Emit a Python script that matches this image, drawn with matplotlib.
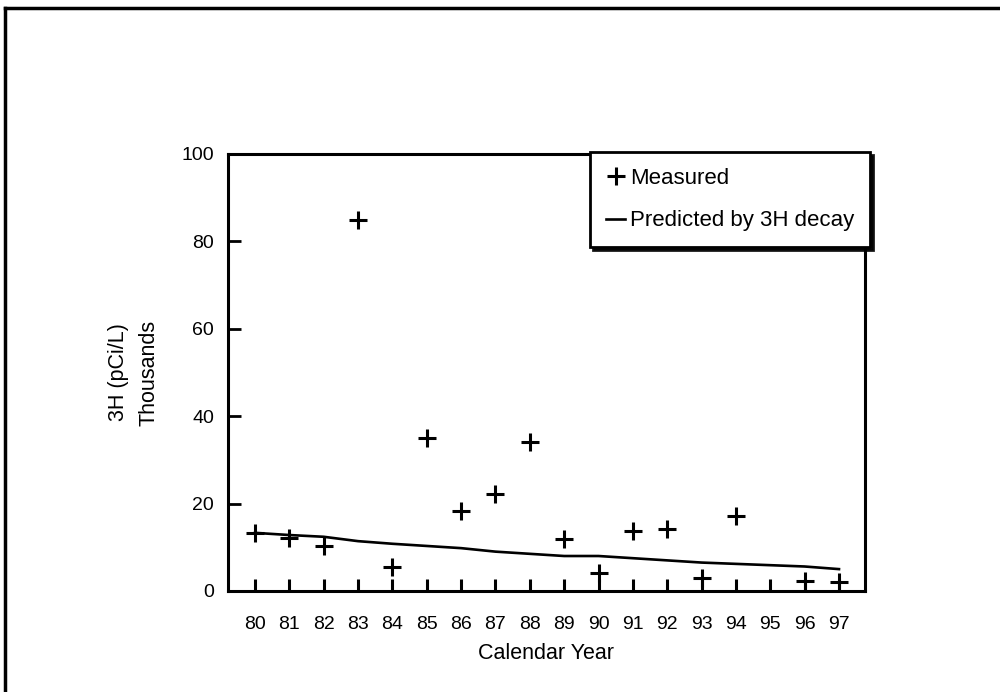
import matplotlib.pyplot as plt
from matplotlib.lines import Line2D

plt.rcParams['font.family'] = ['Liberation Sans', 'DejaVu Sans']

# measured tritium, thousands of pCi/L (no sample in 95)
years_meas = [80, 81, 82, 83, 84, 85, 86, 87, 88, 89, 90, 91, 92, 93, 94, 96, 97]
measured = [13.3, 12.2, 10.4, 84.9, 5.5, 35.0, 18.4, 22.2, 34.2, 11.8, 4.0, 13.7, 14.1, 3.0, 17.1, 2.2, 2.1]

# predicted by 3H decay
years_pred = [80, 81, 82, 83, 84, 85, 86, 87, 88, 89, 90, 91, 92, 93, 94, 95, 96, 97]
predicted = [13.3, 12.8, 12.4, 11.4, 10.8, 10.3, 9.8, 9.0, 8.5, 8.0, 8.0, 7.5, 7.0, 6.5, 6.2, 5.9, 5.6, 5.0]

year_ticks = list(range(80, 98))
y_ticks = [0, 20, 40, 60, 80, 100]

fig = plt.figure(figsize=(10, 6.92), dpi=100)
ax = fig.add_axes([0.228, 0.146, 0.637, 0.6315])

ax.plot(years_meas, measured, linestyle='none', marker='+', color='black',
        markersize=13, markeredgewidth=2.2, label='Measured')
ax.plot(years_pred, predicted, color='black', linewidth=1.9,
        label='Predicted by 3H decay')

ax.set_xlim(79.214, 97.757)
ax.set_ylim(0, 100)
ax.set_xticks(year_ticks)
ax.set_xticklabels([str(y) for y in year_ticks])
ax.set_yticks(y_ticks)

for s in ax.spines.values():
    s.set_linewidth(2.2)
ax.tick_params(axis='x', direction='in', length=9, width=2.2, pad=18, labelsize=14)
ax.tick_params(axis='y', direction='in', length=9, width=2.0, pad=10, labelsize=14)

ax.set_xlabel('Calendar Year', fontsize=15.5)
ax.xaxis.set_label_coords(0.5, -0.118)
ax.set_ylabel('3H (pCi/L)\nThousands', fontsize=15.5, linespacing=1.6)
ax.yaxis.set_label_coords(-0.108, 0.5)

leg = ax.legend(loc='upper right', bbox_to_anchor=(0.870, 0.780),
                bbox_transform=fig.transFigure, fontsize=16,
                fancybox=False, shadow={'color': 'black', 'alpha': 0.9},
                framealpha=1, edgecolor='black', handlelength=0.85,
                handletextpad=0.2, borderpad=0.72, labelspacing=0.95,
                borderaxespad=0)
leg.get_frame().set_linewidth(2.0)

# page frame (top and left edges)
fig.add_artist(Line2D([0.005, 1.0], [0.988, 0.988], color='black', linewidth=2.5))
fig.add_artist(Line2D([0.005, 0.005], [0.0, 0.988], color='black', linewidth=2.5))

fig.savefig('out.png', dpi=100)
